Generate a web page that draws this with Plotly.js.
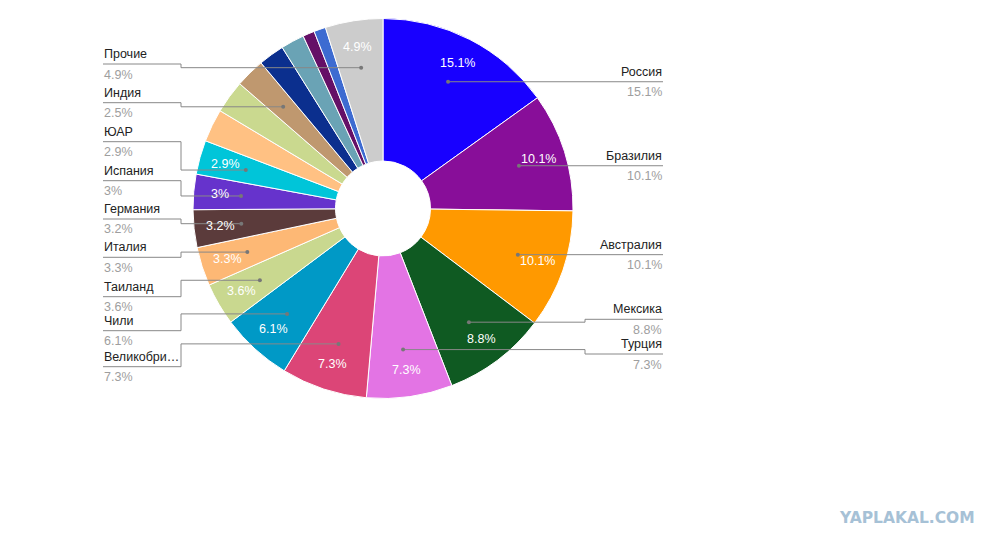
<!DOCTYPE html>
<html>
<head>
<meta charset="utf-8">
<script src="https://cdn.plot.ly/plotly-3.0.1.min.js"></script>
<style>
html,body{margin:0;padding:0;background:#fff;}
#chart{width:1002px;height:548px;}
</style>
</head>
<body>
<div id="chart"></div>
<script>
// ---- data (clockwise from 12 o'clock) ----
const categories = ['Россия','Бразилия','Австралия','Мексика','Турция','Великобритания','Чили','Таиланд','Италия','Германия','Испания','ЮАР',null,null,'Индия',null,null,null,null,'Прочие'];
const values     = [15.1, 10.1, 10.1, 8.8, 7.3, 7.3, 6.1, 3.6, 3.3, 3.2, 3.0, 2.9, 2.8, 2.8, 2.5, 2.2, 2.0, 1.0, 1.0, 4.9];
const colors     = ['#1800ff','#880e99','#ff9900','#0f5a22','#e374e4','#dc4577','#0099c6','#c9d88f','#fdb875','#5b3b3b','#6633cc','#00c5d9','#ffc183','#cad98f','#bf986f','#0b2f8e','#6aa3b5','#651067','#3d6bd1','#cccccc'];

// legend placement (layout only): labels and their leader-line heights in px
const rightLabels = ['Россия','Бразилия','Австралия','Мексика','Турция'];
const rightLineY  = [null, null, null, 319.3, 354];
const leftLabels  = ['Прочие','Индия','ЮАР','Испания','Германия','Италия','Таиланд','Чили','Великобритания'];
const leftLineY   = [64, 102.7, 141.7, 180.7, 219, 257.3, 296.7, 330.7, 366.7];

// ---- layout constants ----
const W = 1002, H = 548;
const CX = 383, CY = 208.5, R = 190, HOLE = 0.25;
const LEFT_X = 103, LEFT_ELBOW = 181, RIGHT_X = 663, RIGHT_ELBOW = 585;
const px = x => x / W, py = y => 1 - y / H;

const total = values.reduce((a, b) => a + b, 0);
const mids = [];
let cum = 0;
values.forEach(v => { mids.push((cum + v / 2) / total * 2 * Math.PI); cum += v; });
const at = (i, rr) => [CX + rr * Math.sin(mids[i]), CY - rr * Math.cos(mids[i])];
const fmt = v => String(+v.toFixed(1));
const shortName = s => s.length > 10 ? s.slice(0, 9) + '…' : s;

const shapes = [], annotations = [];
const lineStyle = {color: '#888888', width: 1};
const nameFont = {family: 'Liberation Sans, Arial, sans-serif', size: 12.5, color: '#222222'};
const valFont  = {family: 'Liberation Sans, Arial, sans-serif', size: 12.5, color: '#9e9e9e'};

function dot(x, y) {
  shapes.push({type: 'circle', xref: 'paper', yref: 'paper',
    x0: px(x - 2), x1: px(x + 2), y0: py(y + 2), y1: py(y - 2),
    fillcolor: '#777777', line: {width: 0}});
}
function path(pts) {
  const d = pts.map((p, k) => (k ? 'L' : 'M') + px(p[0]) + ',' + py(p[1])).join(' ');
  shapes.push({type: 'path', xref: 'paper', yref: 'paper', path: d, line: lineStyle});
}
function label(x, y, name, val, anchor) {
  annotations.push({xref: 'paper', yref: 'paper', x: px(x), y: py(y - 10), text: name,
    showarrow: false, xanchor: anchor, yanchor: 'middle', font: nameFont, borderpad: 0});
  annotations.push({xref: 'paper', yref: 'paper', x: px(x), y: py(y + 10.5), text: val,
    showarrow: false, xanchor: anchor, yanchor: 'middle', font: valFont, borderpad: 0});
}

// right-hand legend
rightLabels.forEach((name, k) => {
  const i = categories.indexOf(name);
  const [dx, dy] = at(i, 0.75 * R);
  const ly = rightLineY[k] == null ? dy : rightLineY[k];
  if (rightLineY[k] == null) path([[dx, dy], [RIGHT_X, dy]]);
  else path([[dx, dy], [RIGHT_ELBOW, dy], [RIGHT_ELBOW, ly], [RIGHT_X, ly]]);
  dot(dx, dy);
  label(RIGHT_X, ly, shortName(name), fmt(values[i]) + '%', 'right');
});
// left-hand legend
leftLabels.forEach((name, k) => {
  const i = categories.indexOf(name);
  const [dx, dy] = at(i, 0.75 * R);
  const ly = leftLineY[k];
  path([[LEFT_X, ly], [LEFT_ELBOW, ly], [LEFT_ELBOW, dy], [dx, dy]]);
  dot(dx, dy);
  label(LEFT_X, ly, shortName(name), fmt(values[i]) + '%', 'left');
});
// percentage text inside the larger slices
values.forEach((v, i) => {
  if (v < 2.9) return;
  const [tx, ty] = at(i, 0.86 * R);
  annotations.push({xref: 'paper', yref: 'paper', x: px(tx), y: py(ty), text: fmt(v) + '%',
    showarrow: false, xanchor: 'center', yanchor: 'middle', borderpad: 0,
    font: {family: 'Liberation Sans, Arial, sans-serif', size: 12.5, color: '#ffffff'}});
});
// watermark
annotations.push({xref: 'paper', yref: 'paper', x: px(976), y: py(518), text: '<b>YAPLAKAL.COM</b>',
  showarrow: false, xanchor: 'right', yanchor: 'middle', borderpad: 0,
  font: {family: 'DejaVu Sans, sans-serif', size: 15.5, color: '#a6c1d6'}});

const trace = {
  type: 'pie',
  labels: values.map((_, i) => i),
  values: values,
  sort: false,
  direction: 'clockwise',
  rotation: 0,
  hole: HOLE,
  textinfo: 'none',
  hoverinfo: 'none',
  marker: {colors: colors, line: {color: '#ffffff', width: 1}},
  domain: {x: [px(CX - R), px(CX + R)], y: [py(CY + R), py(CY - R)]},
  showlegend: false
};

Plotly.newPlot('chart', [trace], {
  width: W, height: H,
  margin: {l: 0, r: 0, t: 0, b: 0},
  paper_bgcolor: '#ffffff',
  showlegend: false,
  shapes: shapes,
  annotations: annotations
}, {staticPlot: true});
</script>
</body>
</html>
